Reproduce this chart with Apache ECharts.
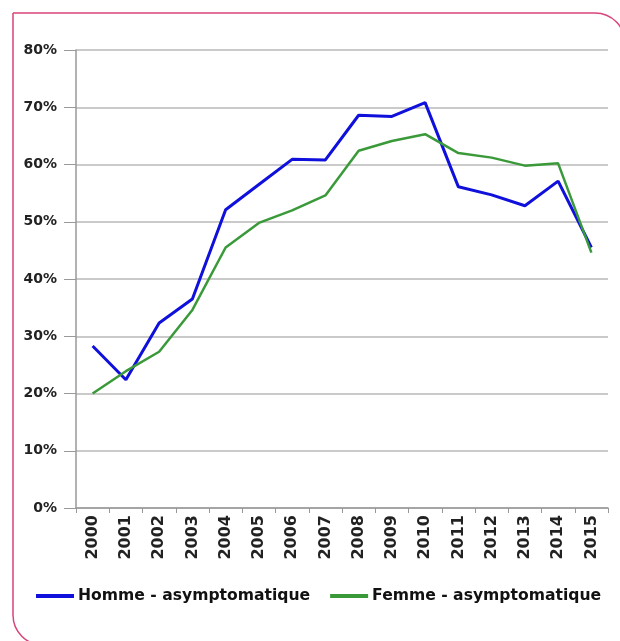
<!DOCTYPE html>
<html>
<head>
<meta charset="utf-8">
<script src="https://cdn.jsdelivr.net/npm/echarts@6/dist/echarts.min.js"></script>
<style>
  html, body { margin: 0; padding: 0; background: #fff; }
  #chart { width: 620px; height: 641px; }
</style>
</head>
<body>
<div id="chart"></div>
<script>
var years = ['2000', '2001', '2002', '2003', '2004', '2005', '2006', '2007',
             '2008', '2009', '2010', '2011', '2012', '2013', '2014', '2015'];
var homme = [28.3, 22.4, 32.3, 36.5, 52.1, 56.5, 60.9, 60.8,
             68.6, 68.4, 70.8, 56.1, 54.7, 52.8, 57.1, 45.5];
var femme = [20.0, 23.9, 27.3, 34.6, 45.5, 49.8, 52.0, 54.6,
             62.4, 64.1, 65.3, 62.0, 61.2, 59.8, 60.2, 44.6];
var seriesNames = ['Homme - asymptomatique', 'Femme - asymptomatique'];

var myChart = echarts.init(document.getElementById('chart'));
myChart.setOption({
    animation: false,
    textStyle: { fontFamily: 'DejaVu Sans, sans-serif' },
    graphic: [{
        type: 'rect',
        shape: { x: 13, y: 13, width: 612, height: 632, r: [0, 30, 0, 30] },
        style: { fill: 'none', stroke: '#d9447c', lineWidth: 1.5 },
        silent: true
    }],
    grid: { left: 76, right: 12, top: 50, bottom: 133 },
    legend: {
        left: 31,
        top: 583,
        icon: 'rect',
        itemWidth: 38,
        itemHeight: 4,
        itemGap: 20,
        textStyle: { fontSize: 15.6, fontWeight: 'bold', color: '#111', padding: [0, 0, 0, -1] },
        data: seriesNames
    },
    xAxis: {
        type: 'category',
        data: years,
        boundaryGap: true,
        axisLine: { lineStyle: { color: '#999', width: 1.5 } },
        axisTick: { show: true, length: 5, lineStyle: { color: '#999' } },
        axisLabel: {
            rotate: 90,
            margin: 7,
            fontSize: 16,
            fontWeight: 'bold',
            color: '#222'
        }
    },
    yAxis: {
        type: 'value',
        min: 0,
        max: 80,
        interval: 10,
        axisLine: { show: true, lineStyle: { color: '#999', width: 1.5 } },
        axisTick: { show: true, length: 12, lineStyle: { color: '#999' } },
        axisLabel: {
            formatter: '{value}%',
            margin: 19,
            fontSize: 14,
            fontWeight: 'bold',
            color: '#222'
        },
        splitLine: { lineStyle: { color: '#b8b8b8', width: 1.5 } }
    },
    series: [
        {
            name: seriesNames[0],
            type: 'line',
            data: homme,
            symbol: 'none',
            color: '#1010dc',
            lineStyle: { width: 3, color: '#1010dc' },
            z: 3
        },
        {
            name: seriesNames[1],
            type: 'line',
            data: femme,
            symbol: 'none',
            color: '#3a9a3a',
            lineStyle: { width: 2.5, color: '#3a9a3a' },
            z: 4
        }
    ]
});
</script>
</body>
</html>
